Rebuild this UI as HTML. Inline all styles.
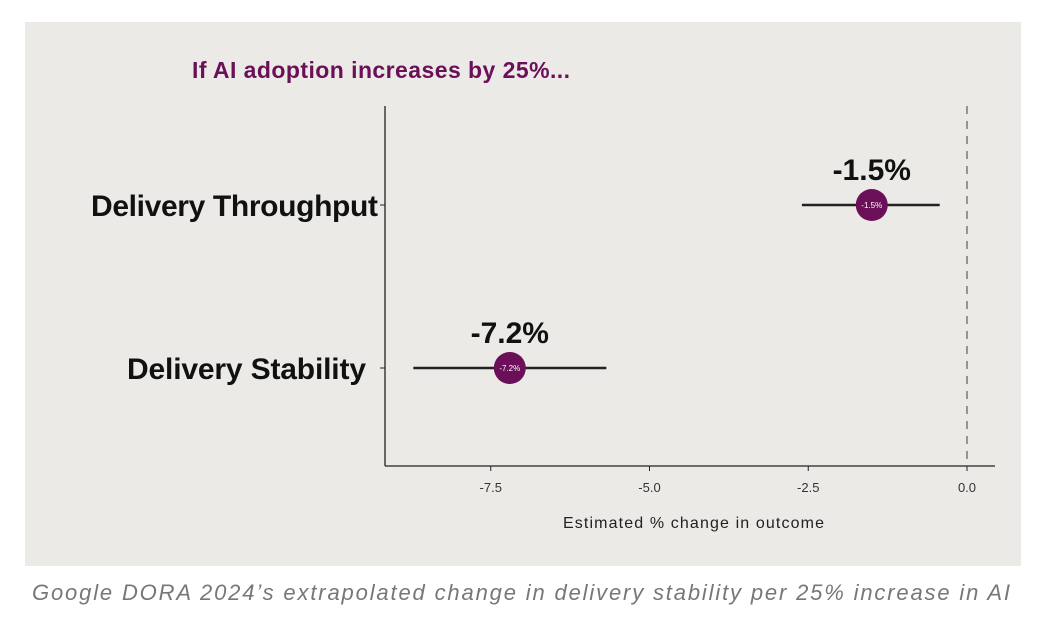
<!DOCTYPE html>
<html><head><meta charset="utf-8"><style>
body{margin:0;background:#fff;width:1037px;height:615px;overflow:hidden;font-family:"Liberation Sans",sans-serif}
</style></head><body>
<svg width="1037" height="615" xmlns="http://www.w3.org/2000/svg">
<rect x="25" y="22" width="996" height="544" fill="#ebeae6"/>
<text x="192" y="78" font-size="23" font-weight="bold" fill="#6b0f58" textLength="378">If AI adoption increases by 25%...</text>
<g id="plot"></g>
<text x="563" y="528" font-size="16" fill="#222" textLength="261">Estimated % change in outcome</text>
<text x="32" y="600" font-size="22" font-style="italic" fill="#777" textLength="978">Google DORA 2024’s extrapolated change in delivery stability per 25% increase in AI</text>
</svg>
<script>
const categories=["Delivery Throughput","Delivery Stability"];
const estimates=[-1.5,-7.2];
const lowerCI=[-2.6,-8.72];
const upperCI=[-0.43,-5.68];
const pointLabels=["-1.5%","-7.2%"];
const ticks=[-7.5,-5.0,-2.5,0.0];
const tickLabels=["-7.5","-5.0","-2.5","0.0"];
const NS="http://www.w3.org/2000/svg";
const g=document.getElementById('plot');
const x=v=>967+v*63.5;
const rowY=[205,368];
function mk(t,a){const e=document.createElementNS(NS,t);for(const k in a)e.setAttribute(k,a[k]);g.appendChild(e);return e;}
let e;
e=mk('line',{x1:385,y1:106,x2:385,y2:466,stroke:'#222','stroke-width':1.3});


e=mk('line',{x1:385,y1:466,x2:995,y2:466,stroke:'#222','stroke-width':1.3});


e=mk('line',{x1:x(0),y1:106,x2:x(0),y2:466,stroke:'#777','stroke-width':1.5,'stroke-dasharray':'8,7'});


ticks.forEach((t,i)=>{
 e=mk('line',{x1:x(t),y1:466,x2:x(t),y2:471,stroke:'#222'});
 
 
 e=mk('text',{x:x(t),y:492,'font-size':13,'text-anchor':'middle',fill:'#333'});
 e.textContent=tickLabels[i];
 
 
});
categories.forEach((c,i)=>{
 const y=rowY[i];
 e=mk('line',{x1:380,y1:y,x2:385,y2:y,stroke:'#222'});
 
 
 e=mk('text',{x:i==0?91:127,y:y+11,'font-size':30,'font-weight':'bold',fill:'#111',textLength:i==0?287:239});
 e.textContent=c;
 
 
 e=mk('line',{x1:x(lowerCI[i]),y1:y,x2:x(upperCI[i]),y2:y,stroke:'#222','stroke-width':2.5});
 
 
 e=mk('circle',{cx:x(estimates[i]),cy:y,r:16,fill:'#6b0f58'});
 
 
 e=mk('text',{x:x(estimates[i]),y:y+3,'font-size':8,'text-anchor':'middle',fill:'#fff'});
 e.textContent=pointLabels[i];
 
 
 e=mk('text',{x:x(estimates[i]),y:y-25,'font-size':30,'font-weight':'bold','text-anchor':'middle',fill:'#111'});
 e.textContent=pointLabels[i];
 
 
});
</script>
</body></html>
